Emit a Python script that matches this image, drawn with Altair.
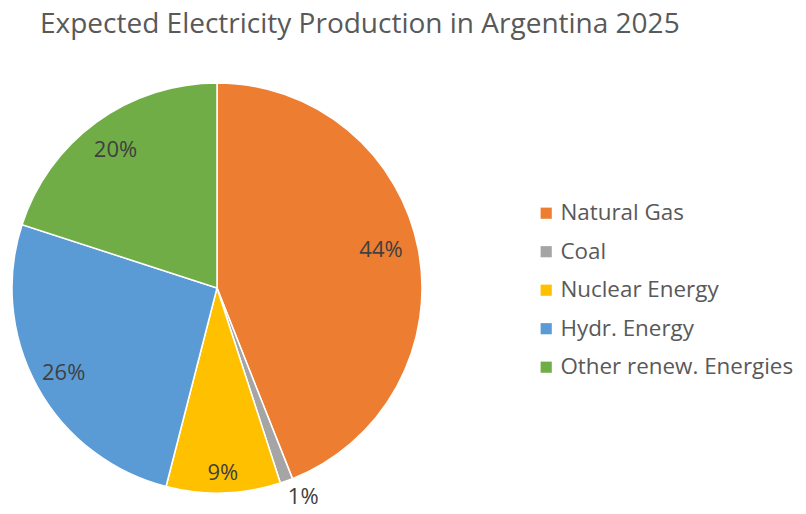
import altair as alt
import pandas as pd
import math

title_text = "Expected Electricity Production in Argentina 2025"
categories = ["Natural Gas", "Coal", "Nuclear Energy", "Hydr. Energy", "Other renew. Energies"]
shares = [44, 1, 9, 26, 20]
labels = ["44%", "1%", "9%", "26%", "20%"]
colors = ["#ED7D31", "#A5A5A5", "#FFC000", "#5B9BD5", "#70AD47"]

df = pd.DataFrame({
    "category": categories,
    "share": shares,
    "label": labels,
    "order": list(range(len(categories))),
})

FONT = "Open Sans"
CX, CY, R = 209, 280, 205

arcs = alt.Chart(df).mark_arc(outerRadius=R, stroke="white", strokeWidth=1.5).encode(
    theta=alt.Theta("share:Q", stack=True),
    order=alt.Order("order:Q"),
    x=alt.value(CX),
    y=alt.value(CY),
    color=alt.Color(
        "category:N",
        scale=alt.Scale(domain=categories, range=colors),
        sort=categories,
        legend=alt.Legend(
            title=None,
            orient="none",
            legendX=527,
            legendY=194,
            symbolType="square",
            symbolSize=125,
            symbolStrokeWidth=0,
            labelFontSize=22.4,
            labelFont=FONT,
            labelColor="#595959",
            rowPadding=15.5,
            labelOffset=3,
            labelLimit=400,
        ),
    ),
)

text_base = alt.Chart(df).transform_window(
    cum="sum(share)", sort=[alt.SortField("order")]
).transform_calculate(
    mid="datum.cum - datum.share / 2"
).encode(
    theta=alt.Theta("mid:Q", stack=None, scale=alt.Scale(domain=[0, 100], range=[0, 2 * math.pi])),
    x=alt.value(CX),
    y=alt.value(CY),
    text="label:N",
)

txt = dict(fontSize=22, font=FONT, color="#404040")
# label placement (radius, dx, dy) per slice
placement = {
    "Natural Gas": (170, -3, -6),
    "Coal": (222, 11, 0),
    "Nuclear Energy": (185, 0, 0),
    "Hydr. Energy": (175, 0, 1),
    "Other renew. Energies": (171, -1, 0),
}
text_layers = [
    text_base.mark_text(radius=r, dx=dx, dy=dy, **txt).transform_filter(alt.datum.category == cat)
    for cat, (r, dx, dy) in placement.items()
]

title = alt.Chart(pd.DataFrame({"t": [title_text]})).mark_text(
    align="left", baseline="alphabetic", fontSize=28, font=FONT, color="#595959"
).encode(text="t:N", x=alt.value(32), y=alt.value(25))

chart = alt.layer(arcs, *text_layers, title).resolve_scale(theta="independent").properties(
    width=790,
    height=498,
    autosize=alt.AutoSizeParams(type="none"),
    padding=0,
).configure_view(stroke=None)

chart.save("out.html", embed_options={"renderer": "svg", "actions": False})
